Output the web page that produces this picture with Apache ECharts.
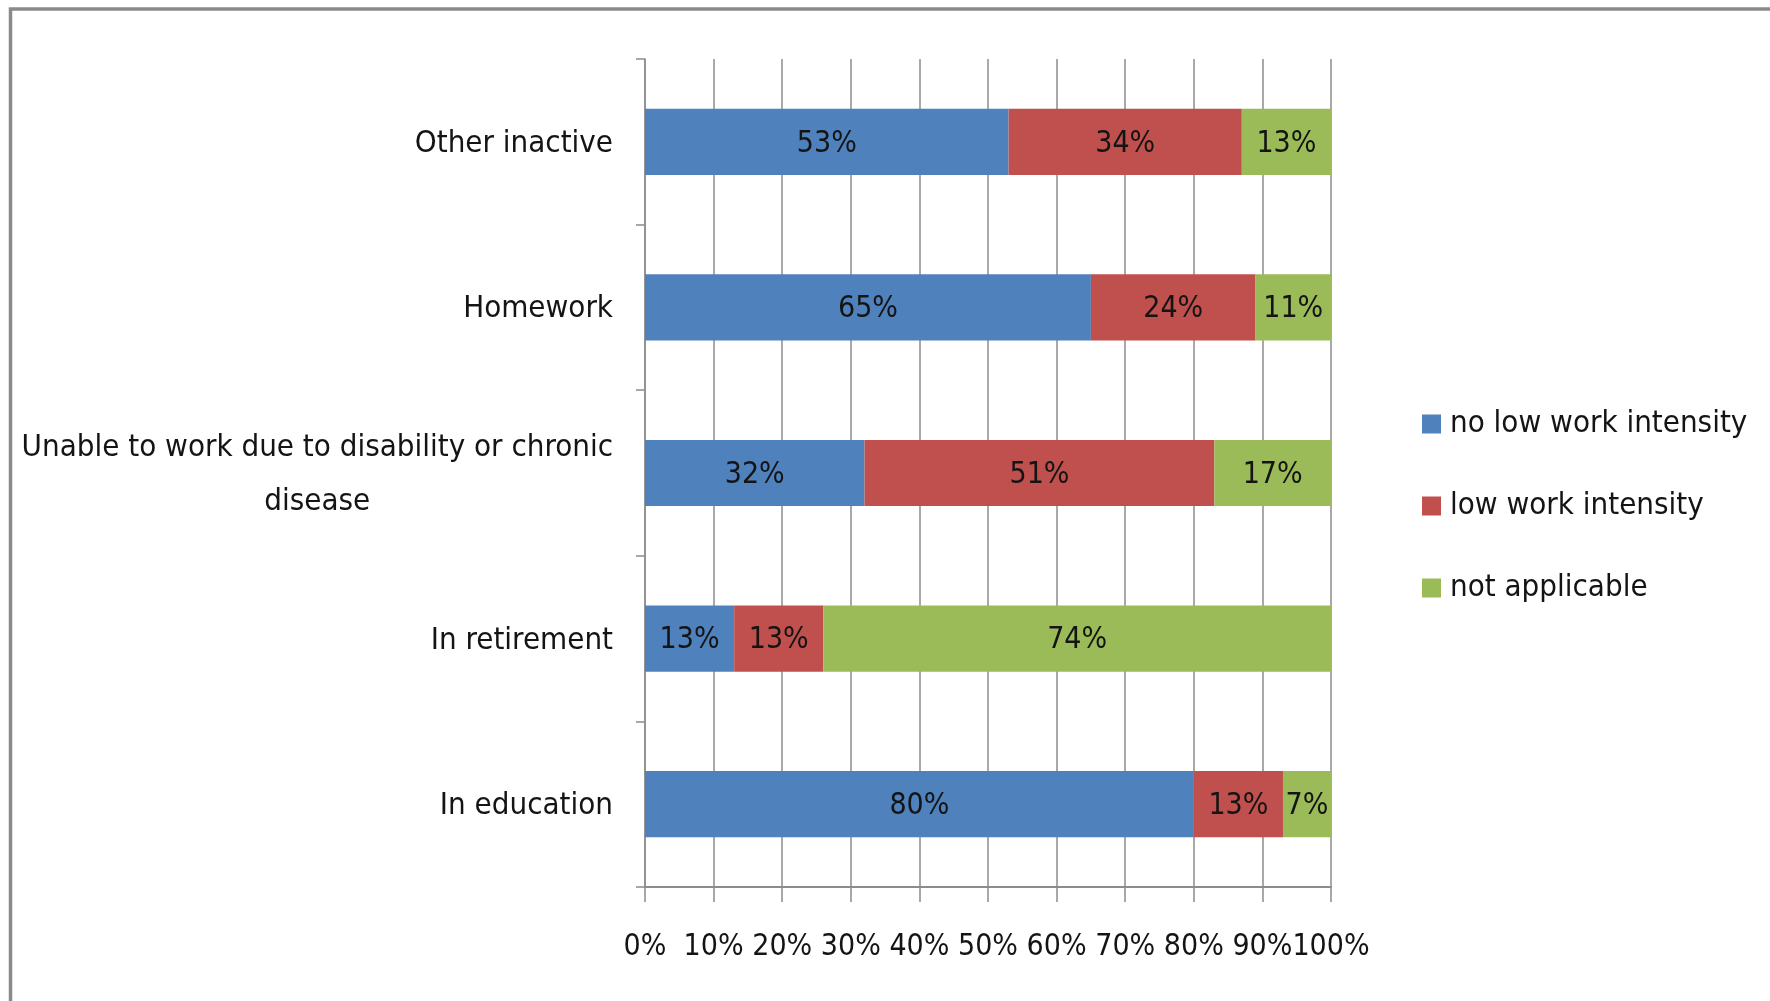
<!DOCTYPE html>
<html>
<head>
<meta charset="utf-8">
<title>Work intensity by inactivity status</title>
<script src="https://cdn.jsdelivr.net/npm/echarts@6/dist/echarts.min.js"></script>
<style>
  html, body { margin: 0; padding: 0; background: #ffffff; }
  #chart { width: 1770px; height: 1001px; }
</style>
</head>
<body>
<div id="chart"></div>
<script>
// Categories listed bottom to top (category axis starts at the bottom)
const categories = [
  'In education',
  'In retirement',
  'Unable to work due to disability or chronic\ndisease',
  'Homework',
  'Other inactive'
];
const seriesNames = ['no low work intensity', 'low work intensity', 'not applicable'];
const noLowWorkIntensity = [80, 13, 32, 65, 53];
const lowWorkIntensity   = [13, 13, 51, 24, 34];
const notApplicable      = [7, 74, 17, 11, 13];

const colors = ['#4F81BD', '#C0504D', '#9BBB59'];
const FONT = "'Liberation Sans Narrow', 'DejaVu Sans Condensed', 'Noto Sans', sans-serif";
const GRID_COLOR = '#8c8c8c';
const TEXT_COLOR = '#141414';

const chart = echarts.init(document.getElementById('chart'), null, { renderer: 'canvas' });

function barSeries(name, values, color) {
  return {
    name: name,
    type: 'bar',
    stack: 'total',
    data: values,
    barWidth: '40%',
    itemStyle: { color: color },
    label: {
      show: true,
      position: 'inside',
      offset: [0, 2],
      formatter: p => p.value + '%',
      color: TEXT_COLOR,
      fontFamily: FONT,
      fontSize: 30
    },
    emphasis: { disabled: true }
  };
}

const option = {
  backgroundColor: '#ffffff',
  animation: false,
  textStyle: { fontFamily: FONT },
  graphic: [{
    type: 'rect',
    silent: true,
    shape: { x: 10.5, y: 9, width: 2000, height: 2000 },
    style: { fill: 'none', stroke: '#8a8a8a', lineWidth: 3.5 }
  }],
  grid: {
    left: 645, right: 439, top: 59, bottom: 114,
    containLabel: false,
    outerBoundsMode: 'none'
  },
  legend: {
    orient: 'vertical',
    left: 1417,
    top: 398,
    itemWidth: 19,
    itemHeight: 19,
    itemGap: 40,
    icon: 'rect',
    data: seriesNames,
    textStyle: {
      fontFamily: FONT,
      fontSize: 31,
      lineHeight: 42,
      color: TEXT_COLOR,
      padding: [0, 0, 0, 4]
    }
  },
  xAxis: {
    type: 'value',
    min: 0,
    max: 100,
    interval: 10,
    axisLine: { show: true, lineStyle: { color: GRID_COLOR, width: 2 } },
    axisTick: { show: true, length: 15, lineStyle: { color: GRID_COLOR, width: 1.5 } },
    splitLine: { show: true, lineStyle: { color: GRID_COLOR, width: 1.5 } },
    axisLabel: {
      margin: 45,
      color: TEXT_COLOR,
      fontFamily: FONT,
      fontSize: 30,
      showMinLabel: true,
      showMaxLabel: true,
      hideOverlap: false,
      formatter: v => v + '%'
    }
  },
  yAxis: {
    type: 'category',
    data: categories,
    axisLine: { show: true, lineStyle: { color: GRID_COLOR, width: 1.5 } },
    axisTick: { show: true, length: 9, lineStyle: { color: GRID_COLOR, width: 1.5 } },
    axisLabel: {
      margin: 32,
      align: 'right',
      formatter: v => v.split('\n').map(s => '{c|' + s + '}').join('\n'),
      rich: {
        c: {
          align: 'center',
          fontFamily: FONT,
          fontSize: 31,
          lineHeight: 54,
          padding: [4, 0, 0, 0],
          color: TEXT_COLOR
        }
      }
    }
  },
  series: [
    barSeries(seriesNames[0], noLowWorkIntensity, colors[0]),
    barSeries(seriesNames[1], lowWorkIntensity, colors[1]),
    barSeries(seriesNames[2], notApplicable, colors[2])
  ]
};

chart.setOption(option);
</script>
</body>
</html>
